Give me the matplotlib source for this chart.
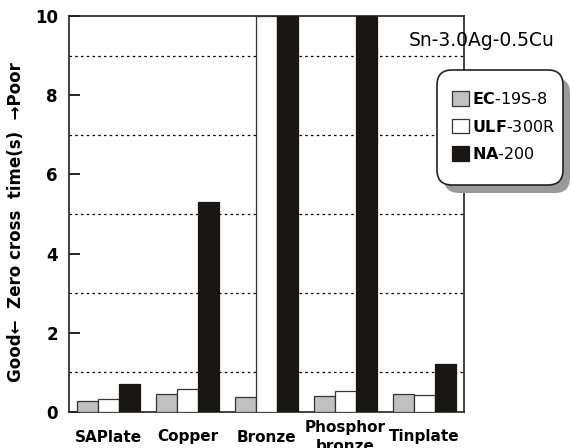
import matplotlib
matplotlib.use("Agg")
import matplotlib.pyplot as plt
import numpy as np
from matplotlib.patches import FancyBboxPatch
from matplotlib.transforms import IdentityTransform
from matplotlib.ticker import MultipleLocator, FixedLocator

categories = ["SAPlate", "Copper", "Bronze", "Phosphor\nbronze", "Tinplate"]
series_names = [r"$\mathbf{EC}$-19S-8", r"$\mathbf{ULF}$-300R", r"$\mathbf{NA}$-200"]
ec_19s_8 = [0.29, 0.45, 0.37, 0.40, 0.45]
ulf_300r = [0.33, 0.59, 10.0, 0.54, 0.42]
na_200 = [0.71, 5.30, 10.0, 10.0, 1.21]
title = "Sn-3.0Ag-0.5Cu"
ylabel = "Good\u2190  Zero cross  time(s)  \u2192Poor"

W, H = 571, 448
fig = plt.figure(figsize=(W / 100, H / 100), dpi=100)
ax = fig.add_axes([69 / W, 1 - 412 / H, (464 - 69) / W, (412 - 16) / H])

x = np.arange(len(categories))
bw = 0.27
colors = ["#c0c0c0", "#ffffff", "#1a1614"]
edges = ["#333333", "#333333", "#1a1614"]
series = [ec_19s_8, ulf_300r, na_200]
handles = []
for i, (vals, c, e, name) in enumerate(zip(series, colors, edges, series_names)):
    b = ax.bar(x + (i - 1) * bw, vals, bw, color=c, edgecolor=e, linewidth=0.9,
               label=name, zorder=3)
    handles.append(b)

ax.set_xlim(-0.5, 4.5)
ax.set_ylim(0, 10)
ax.yaxis.set_major_locator(MultipleLocator(2))
ax.yaxis.set_minor_locator(FixedLocator([1, 3, 5, 7, 9]))
ax.grid(which="minor", axis="y", color="black", linewidth=0.9, linestyle=(0, (2, 2.6)))
ax.set_axisbelow(True)
ax.tick_params(axis="y", which="major", direction="in", length=8, width=1.2, pad=8,
               labelsize=12)
ax.tick_params(axis="y", which="minor", length=0)
ax.tick_params(axis="x", length=0, pad=18, labelsize=11)
ax.set_xticks(x)
ax.set_xticklabels(categories, fontweight="bold", va="center", linespacing=1.4)
for t in ax.get_yticklabels():
    t.set_fontweight("bold")
for s in ax.spines.values():
    s.set_linewidth(1.2)
    s.set_color("#222222")

ax.set_ylabel(ylabel, fontsize=12, fontweight="bold")
ax.yaxis.set_label_coords(-0.112, 0.48)

fig.text(555 / W, 1 - 41 / H, title, ha="right", va="center", fontsize=13.5)

# legend box with shadow (display pixel coords)
bx0, by0, bx1, by1 = 437, 70, 563, 185
sh = FancyBboxPatch((bx0 + 7, H - by1 - 8), bx1 - bx0, by1 - by0,
                    boxstyle="round,pad=0,rounding_size=15",
                    transform=IdentityTransform(), facecolor="#9a9a9a",
                    edgecolor="none", zorder=3)
fig.patches.append(sh)
box = FancyBboxPatch((bx0, H - by1), bx1 - bx0, by1 - by0,
                     boxstyle="round,pad=0,rounding_size=15",
                     transform=IdentityTransform(), facecolor="white",
                     edgecolor="#222222", linewidth=1.2, zorder=4)
fig.patches.append(box)
leg = fig.legend(handles, series_names, loc="upper left",
                 bbox_to_anchor=(452 / W, 1 - 91 / H), frameon=False,
                 fontsize=11.5, handlelength=1.05, handleheight=1.05,
                 handletextpad=0.2, labelspacing=0.72, borderaxespad=0,
                 borderpad=0)
leg.set_zorder(5)

fig.savefig("out.png", dpi=100)
